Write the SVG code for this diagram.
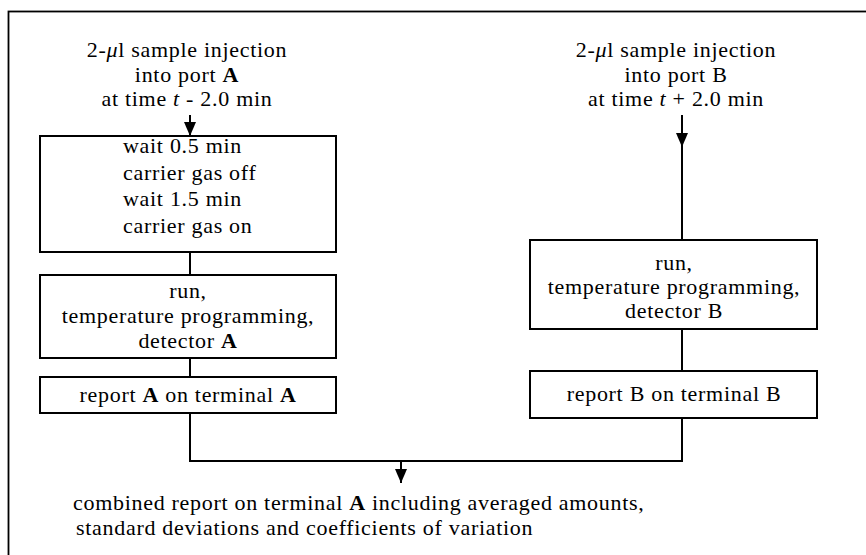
<svg xmlns="http://www.w3.org/2000/svg" width="866" height="555" viewBox="0 0 866 555">
<style>
  .t { font-family: "Liberation Serif", "Times New Roman", serif; font-size: 22px; letter-spacing: 0.7px; fill: #000; }
  .c { text-anchor: middle; }
  .b { font-weight: bold; }
  .i { font-style: italic; }
  .box { fill: #fff; stroke: #000; stroke-width: 2; }
  .ln { fill: none; stroke: #000; stroke-width: 2; }
</style>
<defs>
  <marker id="ah" markerUnits="userSpaceOnUse" markerWidth="15" markerHeight="12" refX="14" refY="6" orient="auto">
    <path d="M0,0 L14,6 L0,12 z" fill="#000"/>
  </marker>
</defs>
<rect x="8.5" y="11.5" width="880" height="570" fill="none" stroke="#000" stroke-width="1.8"/>

<g id="connectors">
  <line class="ln" x1="190" y1="115" x2="190" y2="136" marker-end="url(#ah)"/>
  <line class="ln" x1="190" y1="252" x2="190" y2="275"/>
  <line class="ln" x1="190" y1="358" x2="190" y2="377"/>
  <path class="ln" d="M190,413 V461 H682 V418"/>
  <line class="ln" x1="682" y1="115" x2="682" y2="147" marker-end="url(#ah)"/>
  <line class="ln" x1="682" y1="147" x2="682" y2="240"/>
  <line class="ln" x1="682" y1="329" x2="682" y2="371"/>
  <line class="ln" x1="401" y1="461" x2="401" y2="483" marker-end="url(#ah)"/>
</g>

<g id="inputA">
  <text class="t c" x="187" y="57">2-<tspan class="i">μ</tspan>l sample injection</text>
  <text class="t c" x="187" y="82">into port <tspan class="b">A</tspan></text>
  <text class="t c" x="187" y="106">at time <tspan class="i">t</tspan> - 2.0 min</text>
</g>

<g id="inputB">
  <text class="t c" x="676" y="57">2-<tspan class="i">μ</tspan>l sample injection</text>
  <text class="t c" x="676" y="82">into port B</text>
  <text class="t c" x="676" y="106">at time <tspan class="i">t</tspan> + 2.0 min</text>
</g>

<g id="waitA">
  <rect class="box" x="40" y="136" width="296" height="116"/>
  <text class="t" x="123" y="153">wait 0.5 min</text>
  <text class="t" x="123" y="180">carrier gas off</text>
  <text class="t" x="123" y="206">wait 1.5 min</text>
  <text class="t" x="123" y="233">carrier gas on</text>
</g>

<g id="runA">
  <rect class="box" x="40" y="275" width="296" height="83"/>
  <text class="t c" x="188" y="298">run,</text>
  <text class="t c" x="188" y="323">temperature programming,</text>
  <text class="t c" x="188" y="348">detector <tspan class="b">A</tspan></text>
</g>

<g id="reportA">
  <rect class="box" x="40" y="377" width="296" height="36"/>
  <text class="t c" x="188" y="402">report <tspan class="b">A</tspan> on terminal <tspan class="b">A</tspan></text>
</g>

<g id="runB">
  <rect class="box" x="530" y="240" width="287" height="89"/>
  <text class="t c" x="674" y="270">run,</text>
  <text class="t c" x="674" y="294">temperature programming,</text>
  <text class="t c" x="674" y="318">detector B</text>
</g>

<g id="reportB">
  <rect class="box" x="530" y="371" width="287" height="47"/>
  <text class="t c" x="674" y="401">report B on terminal B</text>
</g>

<g id="combined">
  <text class="t" x="73" y="510">combined report on terminal <tspan class="b">A</tspan> including averaged amounts,</text>
  <text class="t" x="76" y="535">standard deviations and coefficients of variation</text>
</g>
</svg>
